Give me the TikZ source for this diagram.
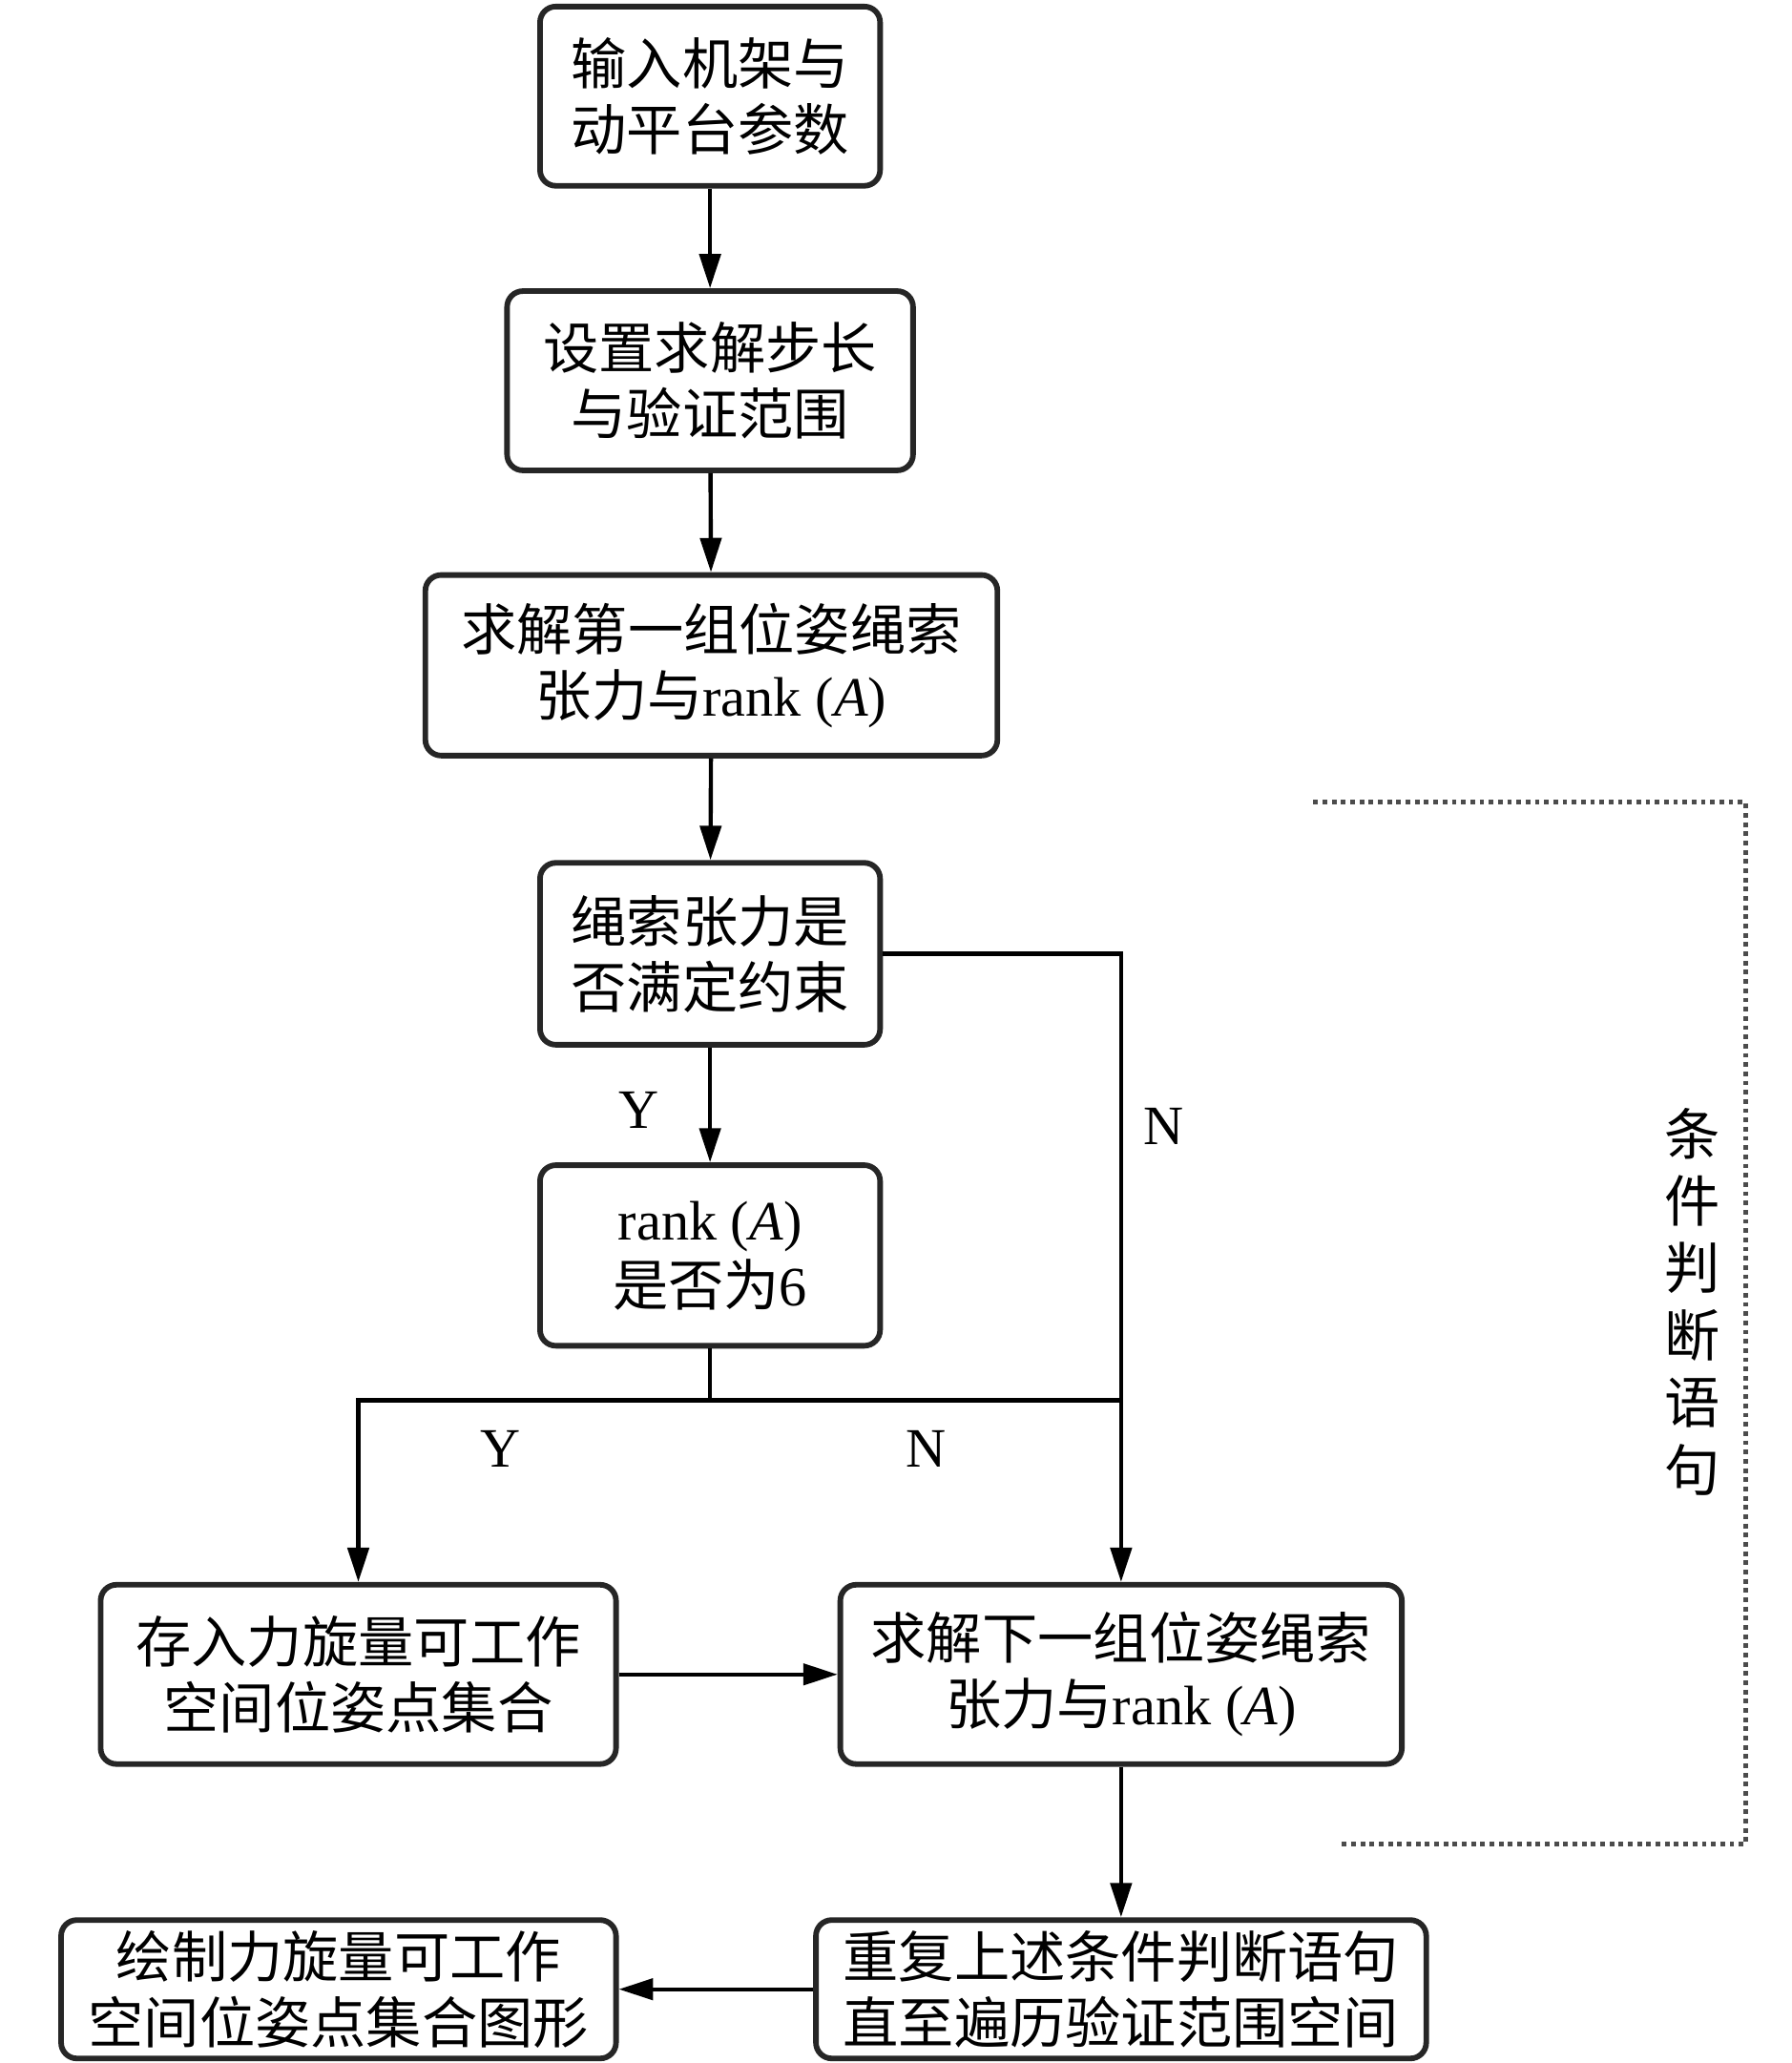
\documentclass[tikz,border=0pt]{standalone}
\usepackage{fontspec}
\setmainfont{Liberation Serif}
\newfontfamily\cjk{Noto Sans CJK SC}
\usetikzlibrary{arrows.meta,positioning}

\newcommand{\rankA}{{\rmfamily rank (\textit{A})}}

\tikzset{
  block/.style={draw=black!85, line width=1.2pt, rounded corners=1.2mm,
    align=center, inner sep=0pt,
    font=\cjk\fontsize{12pt}{14.2pt}\selectfont},
  arr/.style={-{Triangle[length=2.6mm,width=1.6mm]}, line width=0.9pt},
  yn/.style={font=\rmfamily\fontsize{12pt}{14pt}\selectfont},
  bracket/.style={draw=black!70, line width=1pt, dash pattern=on 0.35mm off 0.35mm},
}

\begin{document}
\begin{tikzpicture}[x=0.01cm, y=-0.01cm]
    \useasboundingbox (0,0) rectangle (1360,1566);
    % process boxes
    \node[block, minimum width=2.58cm, minimum height=1.36cm] (input) at (539,73) {输入机架与\\动平台参数};
    \node[block, minimum width=3.08cm, minimum height=1.36cm] (setup) at (539,289) {设置求解步长\\与验证范围};
    \node[block, minimum width=4.34cm, minimum height=1.37cm] (first) at (540,505) {求解第一组位姿绳索\\张力与\rankA};
    \node[block, minimum width=2.58cm, minimum height=1.38cm] (tension) at (539,724) {绳索张力是\\否满定约束};
    \node[block, minimum width=2.58cm, minimum height=1.37cm] (rank) at (539,953) {\rankA\\是否为{\rmfamily 6}};
    \node[block, minimum width=3.91cm, minimum height=1.36cm] (store) at (272,1271) {存入力旋量可工作\\空间位姿点集合};
    \node[block, minimum width=4.26cm, minimum height=1.36cm] (next) at (851,1271) {求解下一组位姿绳索\\张力与\rankA};
    \node[block, minimum width=4.63cm, minimum height=1.05cm] (repeat) at (851,1510) {重复上述条件判断语句\\直至遍历验证范围空间};
    \node[block, minimum width=4.21cm, minimum height=1.05cm] (plot) at (257,1510) {绘制力旋量可工作\\空间位姿点集合图形};

    % main flow
    \path[arr]
        (input) edge (setup)
        (setup) edge (first)
        (first) edge (tension)
        (tension) edge (rank)
        (store) edge (next)
        (next) edge (repeat)
        (repeat) edge (plot);
    \draw[arr] (tension.east) -| (next.north);
    \coordinate (split) at (539,1063);
    \draw[line width=0.9pt] (rank.south) -- (split) -- (split -| next.north);
    \draw[arr] (split) -| (store.north);

    % branch labels
    \node[yn] (y1) at (485,843) {Y};
    \node[yn] (n1) at (883,855) {N};
    \node[yn] (y2) at (380,1100) {Y};
    \node[yn] (n2) at (703,1100) {N};

    % dotted bracket
    \draw[bracket] (997,609) -- (1325,609) -- (1325,1400) -- (1017,1400);
    \node[align=center, font=\cjk\fontsize{12pt}{14.5pt}\selectfont] (cond) at (1285,988) {条\\件\\判\\断\\语\\句};
\end{tikzpicture}
\end{document}
